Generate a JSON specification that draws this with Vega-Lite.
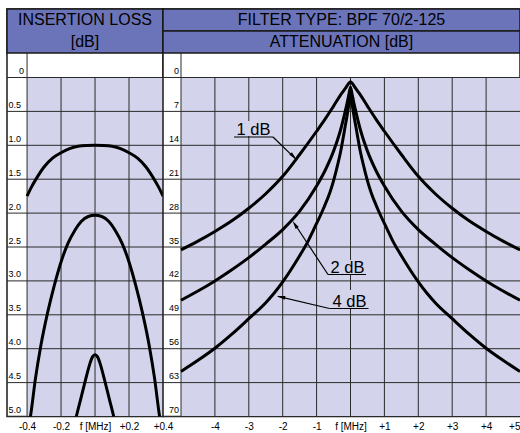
{
  "$schema": "https://vega.github.io/schema/vega-lite/v6.json",
  "padding": {"left": 5, "top": 7, "right": 0, "bottom": 0},
  "bounds": "flush",
  "spacing": 0,
  "config": {
    "font": "Liberation Sans",
    "view": {"stroke": "#1a1a1a", "strokeWidth": 1.5},
    "concat": {"spacing": 0},
    "axis": {"labelFontSize": 10, "labelColor": "#000", "labelOverlap": false, "labelBound": false, "domain": false, "ticks": false, "tickSize": 0, "grid": false, "labelPadding": 5, "labelFont": "Liberation Sans"}
  },
  "datasets": {
    "il": [
      {"f": -0.4, "db": 1.75, "s": "A"}, {"f": -0.375, "db": 1.62, "s": "A"}, {"f": -0.35, "db": 1.51, "s": "A"}, {"f": -0.3, "db": 1.32, "s": "A"}, {"f": -0.25, "db": 1.19, "s": "A"}, {"f": -0.2, "db": 1.11, "s": "A"}, {"f": -0.15, "db": 1.05, "s": "A"}, {"f": -0.1, "db": 1.015, "s": "A"}, {"f": -0.05, "db": 1.003, "s": "A"}, {"f": 0, "db": 1.0, "s": "A"},
      {"f": 0.05, "db": 1.003, "s": "A"}, {"f": 0.1, "db": 1.015, "s": "A"}, {"f": 0.15, "db": 1.05, "s": "A"}, {"f": 0.2, "db": 1.11, "s": "A"}, {"f": 0.25, "db": 1.19, "s": "A"}, {"f": 0.3, "db": 1.32, "s": "A"}, {"f": 0.35, "db": 1.51, "s": "A"}, {"f": 0.375, "db": 1.62, "s": "A"}, {"f": 0.4, "db": 1.75, "s": "A"},
      {"f": -0.39, "db": 5.15, "s": "B"}, {"f": -0.38, "db": 5.0, "s": "B"}, {"f": -0.35, "db": 4.43, "s": "B"}, {"f": -0.32, "db": 3.97, "s": "B"}, {"f": -0.28, "db": 3.48, "s": "B"}, {"f": -0.24, "db": 3.07, "s": "B"}, {"f": -0.2, "db": 2.72, "s": "B"}, {"f": -0.16, "db": 2.45, "s": "B"}, {"f": -0.12, "db": 2.26, "s": "B"}, {"f": -0.08, "db": 2.12, "s": "B"}, {"f": -0.04, "db": 2.05, "s": "B"}, {"f": 0, "db": 2.03, "s": "B"},
      {"f": 0.04, "db": 2.05, "s": "B"}, {"f": 0.08, "db": 2.12, "s": "B"}, {"f": 0.12, "db": 2.26, "s": "B"}, {"f": 0.16, "db": 2.45, "s": "B"}, {"f": 0.2, "db": 2.72, "s": "B"}, {"f": 0.24, "db": 3.07, "s": "B"}, {"f": 0.28, "db": 3.48, "s": "B"}, {"f": 0.32, "db": 3.97, "s": "B"}, {"f": 0.35, "db": 4.43, "s": "B"}, {"f": 0.38, "db": 5.0, "s": "B"}, {"f": 0.39, "db": 5.15, "s": "B"},
      {"f": -0.125, "db": 5.17, "s": "C"}, {"f": -0.11, "db": 5.0, "s": "C"}, {"f": -0.085, "db": 4.75, "s": "C"}, {"f": -0.06, "db": 4.5, "s": "C"}, {"f": -0.03, "db": 4.22, "s": "C"}, {"f": -0.015, "db": 4.12, "s": "C"}, {"f": 0, "db": 4.09, "s": "C"},
      {"f": 0.015, "db": 4.12, "s": "C"}, {"f": 0.03, "db": 4.22, "s": "C"}, {"f": 0.06, "db": 4.5, "s": "C"}, {"f": 0.085, "db": 4.75, "s": "C"}, {"f": 0.11, "db": 5.0, "s": "C"}, {"f": 0.125, "db": 5.17, "s": "C"}
    ],
    "att": [
      {"f": -5, "a": 35.6, "s": "1"}, {"f": -4.5, "a": 33.8, "s": "1"}, {"f": -4, "a": 31.8, "s": "1"}, {"f": -3.5, "a": 29.6, "s": "1"}, {"f": -3, "a": 27.0, "s": "1"}, {"f": -2.5, "a": 24.0, "s": "1"}, {"f": -2, "a": 20.4, "s": "1"}, {"f": -1.5, "a": 15.9, "s": "1"}, {"f": -1, "a": 11.1, "s": "1"}, {"f": -0.75, "a": 8.6, "s": "1"}, {"f": -0.5, "a": 5.9, "s": "1"}, {"f": -0.3, "a": 3.7, "s": "1"}, {"f": -0.2, "a": 2.7, "s": "1"}, {"f": -0.1, "a": 1.7, "s": "1"}, {"f": -0.05, "a": 1.2, "s": "1"}, {"f": 0, "a": 0.9, "s": "1"},
      {"f": 0.05, "a": 1.2, "s": "1"}, {"f": 0.1, "a": 1.7, "s": "1"}, {"f": 0.2, "a": 2.7, "s": "1"}, {"f": 0.3, "a": 3.7, "s": "1"}, {"f": 0.5, "a": 5.9, "s": "1"}, {"f": 0.75, "a": 8.6, "s": "1"}, {"f": 1, "a": 11.1, "s": "1"}, {"f": 1.5, "a": 15.9, "s": "1"}, {"f": 2, "a": 20.4, "s": "1"}, {"f": 2.5, "a": 24.0, "s": "1"}, {"f": 3, "a": 27.0, "s": "1"}, {"f": 3.5, "a": 29.6, "s": "1"}, {"f": 4, "a": 31.8, "s": "1"}, {"f": 4.5, "a": 33.8, "s": "1"}, {"f": 5, "a": 35.6, "s": "1"},
      {"f": -5, "a": 46.0, "s": "2"}, {"f": -4.5, "a": 44.1, "s": "2"}, {"f": -4, "a": 42.0, "s": "2"}, {"f": -3.5, "a": 39.7, "s": "2"}, {"f": -3, "a": 37.2, "s": "2"}, {"f": -2.5, "a": 34.4, "s": "2"}, {"f": -2, "a": 31.4, "s": "2"}, {"f": -1.5, "a": 27.6, "s": "2"}, {"f": -1, "a": 22.4, "s": "2"}, {"f": -0.75, "a": 19.2, "s": "2"}, {"f": -0.5, "a": 15.2, "s": "2"}, {"f": -0.3, "a": 11.0, "s": "2"}, {"f": -0.17, "a": 7.4, "s": "2"}, {"f": -0.1, "a": 5.3, "s": "2"}, {"f": -0.04, "a": 3.2, "s": "2"}, {"f": 0, "a": 2.0, "s": "2"},
      {"f": 0.04, "a": 3.2, "s": "2"}, {"f": 0.1, "a": 5.3, "s": "2"}, {"f": 0.17, "a": 7.4, "s": "2"}, {"f": 0.3, "a": 11.0, "s": "2"}, {"f": 0.5, "a": 15.2, "s": "2"}, {"f": 0.75, "a": 19.2, "s": "2"}, {"f": 1, "a": 22.4, "s": "2"}, {"f": 1.5, "a": 27.6, "s": "2"}, {"f": 2, "a": 31.4, "s": "2"}, {"f": 2.5, "a": 34.4, "s": "2"}, {"f": 3, "a": 37.2, "s": "2"}, {"f": 3.5, "a": 39.7, "s": "2"}, {"f": 4, "a": 42.0, "s": "2"}, {"f": 4.5, "a": 44.1, "s": "2"}, {"f": 5, "a": 46.0, "s": "2"},
      {"f": -5, "a": 60.7, "s": "4"}, {"f": -4.5, "a": 58.4, "s": "4"}, {"f": -4, "a": 55.9, "s": "4"}, {"f": -3.5, "a": 53.0, "s": "4"}, {"f": -3, "a": 49.8, "s": "4"}, {"f": -2.5, "a": 46.5, "s": "4"}, {"f": -2.25, "a": 44.5, "s": "4"}, {"f": -2, "a": 42.2, "s": "4"}, {"f": -1.5, "a": 36.8, "s": "4"}, {"f": -1.25, "a": 33.8, "s": "4"}, {"f": -1.1, "a": 31.6, "s": "4"}, {"f": -0.8, "a": 27.1, "s": "4"}, {"f": -0.6, "a": 23.6, "s": "4"}, {"f": -0.41, "a": 18.9, "s": "4"}, {"f": -0.3, "a": 15.6, "s": "4"}, {"f": -0.17, "a": 10.6, "s": "4"}, {"f": -0.07, "a": 6.5, "s": "4"}, {"f": -0.03, "a": 4.5, "s": "4"}, {"f": 0, "a": 3.2, "s": "4"},
      {"f": 0.03, "a": 4.5, "s": "4"}, {"f": 0.07, "a": 6.5, "s": "4"}, {"f": 0.17, "a": 10.6, "s": "4"}, {"f": 0.3, "a": 15.6, "s": "4"}, {"f": 0.41, "a": 18.9, "s": "4"}, {"f": 0.6, "a": 23.6, "s": "4"}, {"f": 0.8, "a": 27.1, "s": "4"}, {"f": 1.1, "a": 31.6, "s": "4"}, {"f": 1.25, "a": 33.8, "s": "4"}, {"f": 1.5, "a": 36.8, "s": "4"}, {"f": 2, "a": 42.2, "s": "4"}, {"f": 2.25, "a": 44.5, "s": "4"}, {"f": 2.5, "a": 46.5, "s": "4"}, {"f": 3, "a": 49.8, "s": "4"}, {"f": 3.5, "a": 53.0, "s": "4"}, {"f": 4, "a": 55.9, "s": "4"}, {"f": 4.5, "a": 58.4, "s": "4"}, {"f": 5, "a": 60.7, "s": "4"}
    ],
    "ilgrid": [
      {"v": 0, "lab": "0"}, {"v": 0.5, "lab": "0.5"}, {"v": 1.0, "lab": "1.0"}, {"v": 1.5, "lab": "1.5"}, {"v": 2.0, "lab": "2.0"}, {"v": 2.5, "lab": "2.5"}, {"v": 3.0, "lab": "3.0"}, {"v": 3.5, "lab": "3.5"}, {"v": 4.0, "lab": "4.0"}, {"v": 4.5, "lab": "4.5"}, {"v": 5.0, "lab": "5.0"}
    ],
    "attgrid": [
      {"v": 0, "lab": "0"}, {"v": 7, "lab": "7"}, {"v": 14, "lab": "14"}, {"v": 21, "lab": "21"}, {"v": 28, "lab": "28"}, {"v": 35, "lab": "35"}, {"v": 42, "lab": "42"}, {"v": 49, "lab": "49"}, {"v": 56, "lab": "56"}, {"v": 63, "lab": "63"}, {"v": 70, "lab": "70"}
    ]
  },
  "hconcat": [
    {
      "width": 156, "height": 407.5,
      "view": {"fill": "#ffffff"},
      "encoding": {
        "x": {"type": "quantitative", "scale": {"domain": [-0.518, 0.4], "nice": false, "zero": false},
          "axis": {"values": [-0.4, -0.2, 0, 0.2, 0.4], "labelExpr": "datum.value == 0 ? 'f [MHz]' : (datum.value < 0 ? '-' : '+') + format(abs(datum.value), '.1f')", "title": null, "labelFlush": false}},
        "y": {"type": "quantitative", "scale": {"domain": [-1.0104, 5], "reverse": true, "nice": false, "zero": false}, "axis": null}
      },
      "layer": [
        {
          "data": {"values": [{}]},
          "mark": {"type": "rect", "color": "#6b74b9", "stroke": "#1a1a1a", "strokeWidth": 1.5},
          "encoding": {
            "x": {"datum": -0.518, "type": "quantitative"},
            "x2": {"datum": 0.4},
            "y": {"datum": -1.0104, "type": "quantitative"},
            "y2": {"datum": -0.3614}
          }
        },
        {
          "data": {"values": [{"t": "INSERTION LOSS", "h": -0.848}, {"t": "[dB]", "h": -0.524}]},
          "mark": {"type": "text", "fontSize": 16, "color": "#000", "align": "center", "baseline": "middle"},
          "encoding": {
            "x": {"datum": -0.059, "type": "quantitative"},
            "y": {"field": "h", "type": "quantitative"},
            "text": {"field": "t"}
          }
        },
        {
          "data": {"values": [{}]},
          "mark": {"type": "rect", "color": "#d3d4eb"},
          "encoding": {
            "x": {"datum": -0.4, "type": "quantitative"},
            "x2": {"datum": 0.4},
            "y": {"datum": 0, "type": "quantitative"},
            "y2": {"datum": 5}
          }
        },
        {
          "data": {"name": "ilgrid"},
          "mark": {"type": "rule", "color": "#2a2a2a", "strokeWidth": 1},
          "encoding": {"y": {"field": "v", "type": "quantitative"}}
        },
        {
          "data": {"values": [{}]},
          "mark": {"type": "rule", "color": "#2a2a2a", "strokeWidth": 1},
          "encoding": {"x": {"datum": -0.4, "type": "quantitative"}, "y": {"datum": -0.3614, "type": "quantitative"}, "y2": {"datum": 5}}
        },
        {
          "data": {"values": [{"g": -0.2}, {"g": 0}, {"g": 0.2}]},
          "mark": {"type": "rule", "color": "#2a2a2a", "strokeWidth": 1},
          "encoding": {
            "x": {"field": "g", "type": "quantitative"},
            "y": {"datum": 0, "type": "quantitative"},
            "y2": {"datum": 5}
          }
        },
        {
          "data": {"name": "il"},
          "mark": {"type": "line", "color": "#000", "strokeWidth": 3, "interpolate": "monotone", "clip": true},
          "encoding": {
            "x": {"field": "f", "type": "quantitative"},
            "y": {"field": "db", "type": "quantitative"},
            "detail": {"field": "s"}
          }
        },
        {
          "data": {"name": "ilgrid"},
          "transform": [{"filter": "datum.v > 0"}],
          "mark": {"type": "text", "fontSize": 9, "color": "#000", "align": "left", "baseline": "alphabetic", "dx": 1.5, "dy": -3.5},
          "encoding": {
            "x": {"datum": -0.518, "type": "quantitative"},
            "y": {"field": "v", "type": "quantitative"},
            "text": {"field": "lab"}
          }
        },
        {
          "data": {"name": "ilgrid"},
          "transform": [{"filter": "datum.v == 0"}],
          "mark": {"type": "text", "fontSize": 9, "color": "#000", "align": "right", "baseline": "alphabetic", "dx": -3, "dy": -3.5},
          "encoding": {
            "x": {"datum": -0.4, "type": "quantitative"},
            "y": {"field": "v", "type": "quantitative"},
            "text": {"field": "lab"}
          }
        }
      ]
    },
    {
      "width": 357, "height": 407.5,
      "view": {"fill": "#ffffff"},
      "encoding": {
        "x": {"type": "quantitative", "scale": {"domain": [-5.531, 5], "nice": false, "zero": false},
          "axis": {"values": [-4, -3, -2, -1, 0, 1, 2, 3, 4, 5], "labelExpr": "datum.value == 0 ? 'f [MHz]' : (datum.value < 0 ? '-' : '+') + format(abs(datum.value), 'd')", "title": null, "labelFlush": true}},
        "y": {"type": "quantitative", "scale": {"domain": [-14.145, 70], "reverse": true, "nice": false, "zero": false}, "axis": null}
      },
      "layer": [
        {
          "data": {"values": [{"y1": -14.145, "y2": -9.602}, {"y1": -9.602, "y2": -5.059}]},
          "mark": {"type": "rect", "color": "#6b74b9", "stroke": "#1a1a1a", "strokeWidth": 1.5},
          "encoding": {
            "x": {"datum": -5.531, "type": "quantitative"},
            "x2": {"datum": 5},
            "y": {"field": "y1", "type": "quantitative"},
            "y2": {"field": "y2"}
          }
        },
        {
          "data": {"values": [{"t": "FILTER TYPE: BPF 70/2-125", "h": -11.874}, {"t": "ATTENUATION [dB]", "h": -7.33}]},
          "mark": {"type": "text", "fontSize": 16, "color": "#000", "align": "center", "baseline": "middle"},
          "encoding": {
            "x": {"datum": -0.2655, "type": "quantitative"},
            "y": {"field": "h", "type": "quantitative"},
            "text": {"field": "t"}
          }
        },
        {
          "data": {"values": [{}]},
          "mark": {"type": "rect", "color": "#d3d4eb"},
          "encoding": {
            "x": {"datum": -5, "type": "quantitative"},
            "x2": {"datum": 5},
            "y": {"datum": 0, "type": "quantitative"},
            "y2": {"datum": 70}
          }
        },
        {
          "data": {"name": "attgrid"},
          "mark": {"type": "rule", "color": "#2a2a2a", "strokeWidth": 1},
          "encoding": {"y": {"field": "v", "type": "quantitative"}}
        },
        {
          "data": {"values": [{}]},
          "mark": {"type": "rule", "color": "#2a2a2a", "strokeWidth": 1},
          "encoding": {"x": {"datum": -5, "type": "quantitative"}, "y": {"datum": -5.059, "type": "quantitative"}, "y2": {"datum": 70}}
        },
        {
          "data": {"values": [{"g": -4}, {"g": -3}, {"g": -2}, {"g": -1}, {"g": 0}, {"g": 1}, {"g": 2}, {"g": 3}, {"g": 4}]},
          "mark": {"type": "rule", "color": "#2a2a2a", "strokeWidth": 1},
          "encoding": {
            "x": {"field": "g", "type": "quantitative"},
            "y": {"datum": 0, "type": "quantitative"},
            "y2": {"datum": 70}
          }
        },
        {
          "data": {"name": "att"},
          "mark": {"type": "line", "color": "#000", "strokeWidth": 3, "interpolate": "monotone", "clip": true},
          "encoding": {
            "x": {"field": "f", "type": "quantitative"},
            "y": {"field": "a", "type": "quantitative"},
            "detail": {"field": "s"}
          }
        },
        {
          "data": {"values": [
            {"f1": -3.45, "f2": -2.27, "a1": 8.98, "a2": 12.08},
            {"f1": -0.68, "f2": 0.5, "a1": 37.68, "a2": 40.58},
            {"f1": -0.62, "f2": 0.56, "a1": 43.88, "a2": 47.6}
          ]},
          "mark": {"type": "rect", "color": "#d3d4eb"},
          "encoding": {
            "x": {"field": "f1", "type": "quantitative"},
            "x2": {"field": "f2"},
            "y": {"field": "a1", "type": "quantitative"},
            "y2": {"field": "a2"}
          }
        },
        {
          "data": {"values": [
            {"f": -2.861, "a": 11.87, "t": "1 dB"},
            {"f": -0.09, "a": 40.37, "t": "2 dB"},
            {"f": -0.03, "a": 47.29, "t": "4 dB"}
          ]},
          "mark": {"type": "text", "fontSize": 16.5, "color": "#000", "align": "center", "baseline": "alphabetic"},
          "encoding": {
            "x": {"field": "f", "type": "quantitative"},
            "y": {"field": "a", "type": "quantitative"},
            "text": {"field": "t"}
          }
        },
        {
          "data": {"values": [
            {"f1": -3.437, "a1": 12.29, "f2": -2.286, "a2": 12.29},
            {"f1": -2.286, "a1": 12.29, "f2": -1.62, "a2": 16.8},
            {"f1": -0.664, "a1": 40.68, "f2": 0.457, "a2": 40.68},
            {"f1": -0.664, "a1": 40.68, "f2": -1.66, "a2": 30.1},
            {"f1": -0.619, "a1": 47.7, "f2": 0.531, "a2": 47.7},
            {"f1": -0.619, "a1": 47.7, "f2": -2.14, "a2": 45.2}
          ]},
          "mark": {"type": "rule", "color": "#000", "strokeWidth": 1.2},
          "encoding": {
            "x": {"field": "f1", "type": "quantitative"},
            "y": {"field": "a1", "type": "quantitative"},
            "x2": {"field": "f2"},
            "y2": {"field": "a2"}
          }
        },
        {
          "data": {"values": [{}]},
          "mark": {"type": "point", "shape": "M0,-1L0.45,1L-0.45,1Z", "filled": true, "color": "#000", "opacity": 1, "size": 70, "angle": 135},
          "encoding": {"x": {"datum": -1.68, "type": "quantitative"}, "y": {"datum": 16.31, "type": "quantitative"}}
        },
        {
          "data": {"values": [{}]},
          "mark": {"type": "point", "shape": "M0,-1L0.45,1L-0.45,1Z", "filled": true, "color": "#000", "opacity": 1, "size": 70, "angle": 326.6},
          "encoding": {"x": {"datum": -1.64, "type": "quantitative"}, "y": {"datum": 30.37, "type": "quantitative"}}
        },
        {
          "data": {"values": [{}]},
          "mark": {"type": "point", "shape": "M0,-1L0.45,1L-0.45,1Z", "filled": true, "color": "#000", "opacity": 1, "size": 70, "angle": 282.7},
          "encoding": {"x": {"datum": -2.05, "type": "quantitative"}, "y": {"datum": 45.3, "type": "quantitative"}}
        },
        {
          "data": {"name": "attgrid"},
          "mark": {"type": "text", "fontSize": 9, "color": "#000", "align": "right", "baseline": "alphabetic", "dx": -2, "dy": -3.5},
          "encoding": {
            "x": {"datum": -5, "type": "quantitative"},
            "y": {"field": "v", "type": "quantitative"},
            "text": {"field": "lab"}
          }
        }
      ]
    }
  ]
}
